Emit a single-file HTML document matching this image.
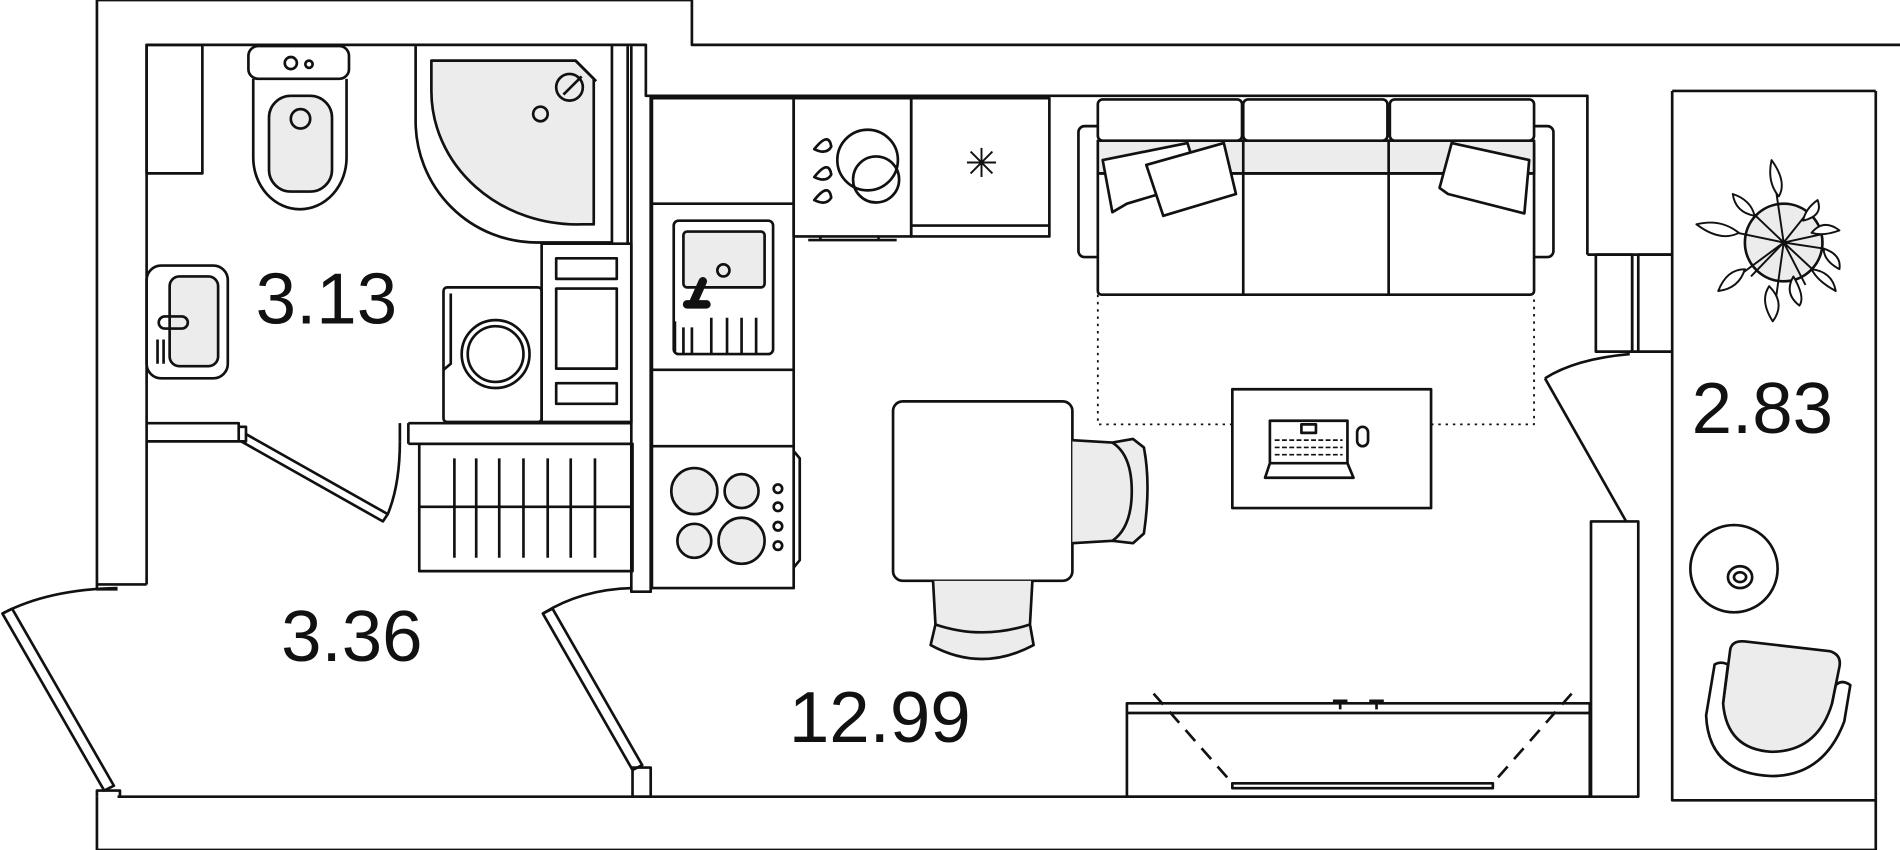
<!DOCTYPE html>
<html><head><meta charset="utf-8"><style>html,body{margin:0;padding:0;background:#fff}svg{display:block}</style></head>
<body>
<svg width="1900" height="850" viewBox="0 0 1568 701" preserveAspectRatio="none" xmlns="http://www.w3.org/2000/svg">
<rect width="1568" height="701" fill="#fff"/>
<g fill="none" stroke="#111" stroke-width="2.2" stroke-linejoin="round">
<path d="M80,482 V0 H571 V37 H1568"/>
<path d="M121,482 V37 H533 V79 H1310 V210"/>
<path d="M80,482 H121 M80,482 V486 H97"/>
<path d="M1548,75 V701"/>
<path d="M80,657 V701 H1548"/>
<path d="M97,657 H1313"/>
<path d="M1380,75 H1548 M1380,75 V210 M1310,210 H1380"/>
<rect x="1317" y="210" width="30" height="80"/>
<path d="M1347,210 V290 M1352,210 V290 M1352,210 H1380 V290 H1345"/>
<path d="M1380,290 V660 H1548"/>
<rect x="1313" y="430" width="39" height="227"/>
<path d="M1275,312 L1342,430 M1275,312 Q1300,296 1345,292"/>
<path d="M505,38 V200 M518,38 V200 M521,38 V488 H537 V79"/>
<path d="M121,349 H197 V364 H121 M197,349 V364 H203 V352 H197"/>
<path d="M337,349 H521 M337,366 H521 M337,349 V366 M330,349 V364"/>
<path d="M203,358 L320,424 L316,430 L199,364" />
<path d="M320,424 Q330,400 330,364"/>
<path d="M2,506 L86,652 L94,648 L10,502 Z"/>
<path d="M2,506 Q40,486 97,485"/>
<path d="M80,657 V652 H99 V657"/>
<path d="M448,506 L522,635 L530,631 L456,502 Z"/>
<path d="M448,506 Q480,486 522,485"/>
<rect x="522" y="633" width="15" height="24"/>
<rect x="121" y="37" width="46" height="106"/>
<rect x="205" y="38" width="83" height="27" rx="8"/>
<circle cx="240" cy="52" r="5"/><circle cx="255" cy="53" r="3"/>
<path d="M209,65 V130 A38,42 0 0 0 286,130 V65"/>
<rect x="222" y="79" width="52" height="79" rx="18" fill="#ececec"/>
<circle cx="248" cy="98" r="8"/>
<path d="M343,38 V100 A100,100 0 0 0 443,200 H505"/>
<path d="M356,50 V75 A120,110 0 0 0 480,185 H490 V65 L475,50 Z" fill="#ececec"/>
<path d="M475,50 L492,67"/>
<circle cx="470" cy="72" r="11"/><path d="M465,78 L480,63"/>
<circle cx="446" cy="94" r="6"/>
<rect x="121" y="219" width="67" height="93" rx="12"/>
<rect x="140" y="228" width="40" height="74" rx="8" fill="#ececec"/>
<rect x="131" y="261" width="24" height="10" rx="5"/>
<path d="M130,280 V300 M135,280 V300"/>
<rect x="366" y="237" width="81" height="111" rx="3"/>
<path d="M372,242 V300 L366,305"/>
<circle cx="409" cy="292" r="28"/><circle cx="409" cy="292" r="23"/>
<rect x="447" y="201" width="74" height="147"/>
<rect x="459" y="213" width="50" height="17"/>
<rect x="459" y="238" width="50" height="66"/>
<rect x="459" y="316" width="50" height="17"/>
<rect x="346" y="366" width="176" height="105"/>
<path d="M346,418 H522"/>
<path d="M375,378 V460 M393,378 V460 M412,378 V460 M432,378 V460 M452,378 V460 M471,378 V460 M491,378 V460"/>
<rect x="538" y="81" width="117" height="404"/>
<path d="M538,168 H655 M538,305 H655 M538,368 H655"/>
<rect x="556" y="182" width="82" height="110" rx="4"/>
<rect x="564" y="191" width="67" height="46" rx="3" fill="#ececec"/>
<circle cx="597" cy="223" r="5"/>
<path d="M580,232 L572,250" stroke-width="7" stroke-linecap="round"/>
<path d="M567,251 H583" stroke-width="7" stroke-linecap="round"/>
<path d="M557,265 V290 M564,270 V292 M571,270 V292 M587,262 V292 M600,262 V292 M612,262 V292 M624,262 V292"/>
<path d="M655,372 L660,378 V462 L655,468"/>
<circle cx="573" cy="405" r="19" fill="#ececec"/><circle cx="612" cy="405" r="14" fill="#ececec"/>
<circle cx="573" cy="446" r="14" fill="#ececec"/><circle cx="612" cy="446" r="19" fill="#ececec"/>
<circle cx="642" cy="403" r="3.5"/><circle cx="642" cy="418" r="3.5"/><circle cx="642" cy="434" r="3.5"/><circle cx="642" cy="450" r="3.5"/>
<rect x="655" y="81" width="97" height="114"/>
<path d="M667,198 H740 M677,195 V198 M725,195 V198"/>
<circle cx="716" cy="132" r="25"/><circle cx="723" cy="148" r="19"/>
<path d="M672,123 Q684,108 686,121 Q682,128 672,123 Z M672,146 Q684,131 686,144 Q682,151 672,146 Z M672,165 Q684,150 686,163 Q682,170 672,165 Z"/>
<rect x="752" y="81" width="114" height="114"/>
<path d="M752,186 H866"/>
<path d="M810,122 V146 M798,134 H822 M801,125 L819,143 M819,125 L801,143" stroke-width="1.6"/>
<rect x="890" y="104" width="28" height="108" rx="5"/>
<rect x="1254" y="104" width="28" height="108" rx="5"/>
<rect x="906" y="116" width="360" height="127" rx="3" fill="#fff"/>
<rect x="906" y="116" width="360" height="27" fill="#ececec"/>
<path d="M1026,116 V243 M1146,116 V243 M906,143 H1266"/>
<rect x="906" y="82" width="119" height="34" rx="4" fill="#fff"/>
<rect x="1026" y="82" width="119" height="34" rx="4" fill="#fff"/>
<rect x="1147" y="82" width="119" height="34" rx="4" fill="#fff"/>
<path d="M910,132 L980,118 L990,150 L930,168 L918,175 Z" fill="#fff"/>
<path d="M946,136 L1010,118 L1020,160 L960,178 Z" fill="#fff"/>
<path d="M1198,118 L1262,132 L1258,176 L1195,160 L1188,155 Z" fill="#fff"/>
<path d="M906,243 V350 H1017 M1181,350 H1266 V243" stroke-dasharray="2,4" stroke-width="1.5"/>
<rect x="1017" y="321" width="164" height="98"/>
<rect x="1048" y="347" width="64" height="35"/>
<rect x="1074" y="350" width="12" height="7"/>
<path d="M1052,363 H1108 M1052,369 H1108 M1052,375 H1108" stroke-dasharray="4,2" stroke-width="1.4"/>
<path d="M1048,382 L1044,394 H1117 L1112,382"/>
<rect x="1120" y="352" width="9" height="16" rx="4.5"/>
<rect x="737" y="331" width="148" height="148" rx="8"/>
<path d="M885,363 L918,365 L935,362 L944,369 Q950,400 944,440 L935,448 L918,446 L885,448" fill="#ececec"/>
<path d="M918,365 Q934,375 934,405 Q934,435 918,446"/>
<path d="M770,479 L772,515 L768,532 Q810,555 853,532 L850,515 L852,479" fill="#ececec"/>
<path d="M772,515 Q810,528 850,515"/>
<rect x="930" y="580" width="382" height="77"/>
<path d="M930,588 H1312"/>
<path d="M1100,578 H1112 M1106,578 V585 M1130,578 H1142 M1136,578 V585"/>
<path d="M1017,646 H1232 V650 H1017 Z"/>
<path d="M952,572 L1017,646 M1297,572 L1232,646" stroke-dasharray="12,8"/>
<circle cx="1472" cy="200" r="32" fill="#ececec"/>
<path d="M1472,200 L1462,132 M1472,200 L1400,185 M1472,200 L1418,240 M1472,200 L1463,265 M1472,200 L1515,240 M1472,200 L1518,190 M1472,200 L1500,165 M1472,200 L1430,160 M1472,200 L1490,235 M1472,200 L1445,228 M1472,200 L1505,205" stroke-width="1.6"/>
<path d="M1462,132 Q1475,150 1468,162 Q1458,150 1462,132 Z M1400,185 Q1420,180 1435,192 Q1420,200 1400,185 Z M1418,240 Q1425,222 1440,222 Q1435,238 1418,240 Z M1463,265 Q1452,248 1460,236 Q1474,250 1463,265 Z M1515,240 Q1500,232 1495,222 Q1512,224 1515,240 Z M1518,190 Q1505,195 1495,192 Q1505,180 1518,190 Z M1500,165 Q1490,172 1488,182 Q1505,178 1500,165 Z M1430,160 Q1445,165 1448,178 Q1432,175 1430,160 Z M1505,205 Q1520,210 1518,222 Q1505,215 1505,205 Z M1480,228 Q1490,245 1485,252 Q1472,242 1480,228 Z" fill="#fff" stroke-width="1.6"/>
<circle cx="1431" cy="469" r="36"/>
<ellipse cx="1436" cy="476" rx="10" ry="9"/><ellipse cx="1436" cy="476" rx="5" ry="4"/>
<path d="M1428,535 Q1430,528 1440,529 L1510,537 Q1520,540 1518,550 L1510,590 Q1495,622 1460,622 Q1420,620 1422,580 Z" fill="#ececec"/>
<path d="M1415,548 Q1420,545 1426,548 L1422,580 Q1425,618 1462,620 Q1500,620 1512,580 L1515,565 Q1520,560 1527,565 L1522,595 Q1505,640 1462,640 Q1410,638 1408,590 Z" fill="#fff"/>
</g>
<g font-family="Liberation Sans, sans-serif" font-size="60" fill="#111">
<text x="211" y="267">3.13</text>
<text x="232" y="545">3.36</text>
<text x="651" y="612">12.99</text>
<text x="1396" y="357">2.83</text>
</g>
</svg>
</body></html>
